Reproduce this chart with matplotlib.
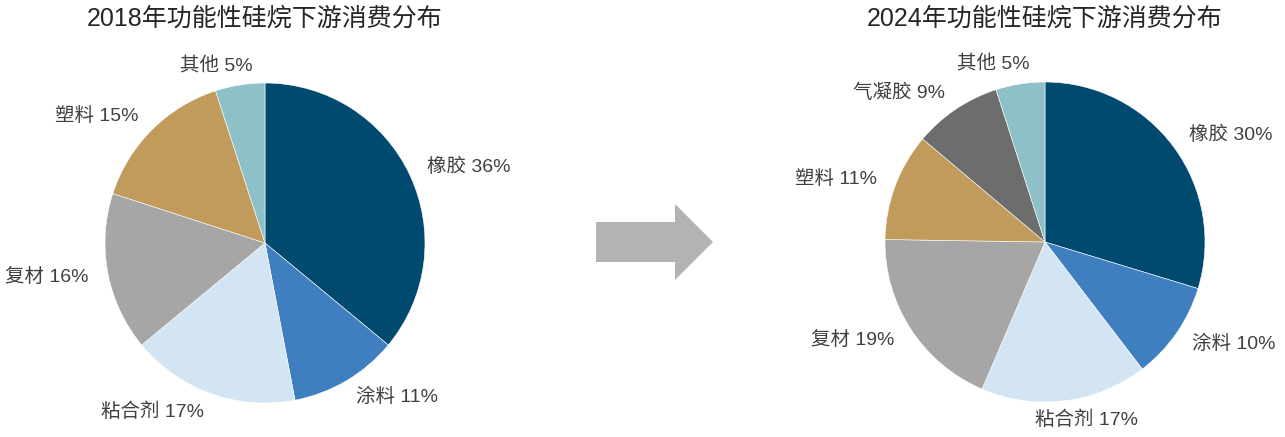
import matplotlib.pyplot as plt
from matplotlib.patches import FancyArrow

plt.rcParams['font.family'] = ['Liberation Sans', 'Noto Sans CJK SC']

# 2018
cats_2018 = ['橡胶', '涂料', '粘合剂', '复材', '塑料', '其他']
vals_2018 = [36, 11, 17, 16, 15, 5]
cols_2018 = ['#004a6f', '#3f7fbf', '#d3e4f3', '#a6a6a6', '#c09b5b', '#8ec0c8']

# 2024
cats_2024 = ['橡胶', '涂料', '粘合剂', '复材', '塑料', '气凝胶', '其他']
vals_2024 = [30, 10, 17, 19, 11, 9, 5]
cols_2024 = ['#004a6f', '#3f7fbf', '#d3e4f3', '#a6a6a6', '#c09b5b', '#6d6d6d', '#8ec0c8']

W, H = 1285, 437
fig = plt.figure(figsize=(W / 100, H / 100), dpi=100)


def draw_pie(cx, cy, r, cats, vals, cols, title):
    ax = fig.add_axes([(cx - r) / W, (H - cy - r) / H, 2 * r / W, 2 * r / H])
    labels = [f'{c} {v}%' for c, v in zip(cats, vals)]
    wedges, texts = ax.pie(vals, labels=labels, colors=cols, startangle=90,
                           counterclock=False, labeldistance=1.12,
                           wedgeprops=dict(edgecolor='white', linewidth=0.4),
                           textprops=dict(fontsize=14, color='#404040'))
    ax.set_xlim(-1, 1)
    ax.set_ylim(-1, 1)
    ax.set_aspect('equal')
    fig.text(cx / W, 1 - 19 / H, title, ha='center', va='center',
             fontsize=18, color='#262626')
    return ax, texts


def nudge(t, dx, dy=0):
    x, y = t.get_position()
    t.set_position((x + dx, y + dy))


ax1, t1 = draw_pie(265, 243, 160, cats_2018, vals_2018, cols_2018, '2018年功能性硅烷下游消费分布')
ax2, t2 = draw_pie(1045, 242, 160, cats_2024, vals_2024, cols_2024, '2024年功能性硅烷下游消费分布')

nudge(t1[5], 0.1)
nudge(t2[6], 0.08)
t2[2].set_ha('center')
nudge(t2[2], 0.12)

# arrow between the pies
fig.add_artist(FancyArrow(596 / W, 1 - 242 / H, 117 / W, 0, width=40 / H,
                          head_width=76 / H, head_length=38 / W,
                          length_includes_head=True, color='#b3b3b3',
                          transform=fig.transFigure, linewidth=0))

fig.savefig('out.png', dpi=100)
